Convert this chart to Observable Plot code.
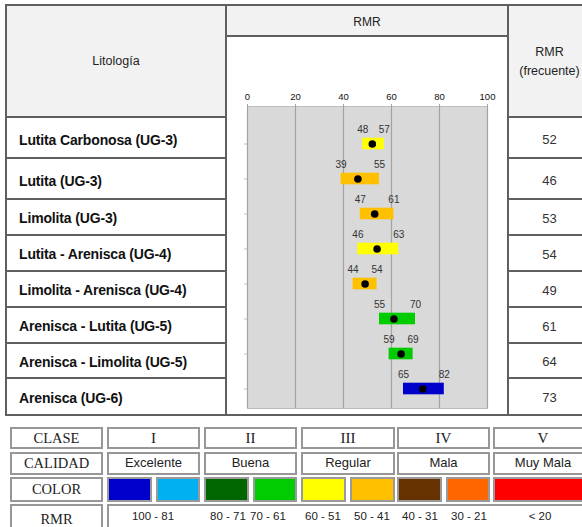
<!DOCTYPE html>
<html>
<head>
<meta charset="utf-8">
<script src="https://cdn.jsdelivr.net/npm/d3@7"></script>
<script src="https://cdn.jsdelivr.net/npm/@observablehq/plot@0.6"></script>
<style>
  html, body { margin: 0; padding: 0; background: #fff; }
  #root { position: relative; width: 582px; height: 527px; overflow: hidden; font-family: "Liberation Sans", Arial, sans-serif; color: #222; }
  .c { position: absolute; box-sizing: border-box; display: flex; align-items: center; }
  .serif { font-family: "Liberation Serif", "Times New Roman", serif; }
</style>
</head>
<body>
<div id="root"></div>
<script>
// ---------- data ----------
const lithologies = [
  "Lutita Carbonosa (UG-3)",
  "Lutita (UG-3)",
  "Limolita (UG-3)",
  "Lutita - Arenisca (UG-4)",
  "Limolita - Arenisca (UG-4)",
  "Arenisca - Lutita (UG-5)",
  "Arenisca - Limolita (UG-5)",
  "Arenisca (UG-6)"
];
const rmrMin  = [48, 39, 47, 46, 44, 55, 59, 65];
const rmrMax  = [57, 55, 61, 63, 54, 70, 69, 82];
const rmrFrec = [52, 46, 53, 54, 49, 61, 64, 73];
const barColors = ["#ffff00", "#ffc000", "#ffc000", "#ffff00", "#ffc000", "#00cc00", "#00cc00", "#0000cc"];
const xTicks = [0, 20, 40, 60, 80, 100];

const classNames = ["I", "II", "III", "IV", "V"];
const qualities = ["Excelente", "Buena", "Regular", "Mala", "Muy Mala"];
const classColors = [["#0000cc", "#00b0f0"], ["#006600", "#00cc00"], ["#ffff00", "#ffc000"], ["#663300", "#ff6600"], ["#ff0000"]];
const rmrRanges = ["100 - 81", "80 - 71", "70 - 61", "60 - 51", "50 - 41", "40 - 31", "30 - 21", "< 20"];

const rows = lithologies.map((name, i) => ({name, min: rmrMin[i], max: rmrMax[i], frec: rmrFrec[i], color: barColors[i]}));

// ---------- layout ----------
const root = document.getElementById("root");
function box(x, y, w, h, style = {}, text = "", cls = "c") {
  const d = document.createElement("div");
  d.className = cls;
  Object.assign(d.style, {left: x + "px", top: y + "px", width: w + "px", height: h + "px"}, style);
  if (text !== "") d.innerHTML = text;
  root.appendChild(d);
  return d;
}
const B = "2px solid #5f5f5f";
const HEAD = "#f2f2f2";
const colX = [5, 225, 507, 590];
const rowY = [4, 116, 157, 198, 234, 270, 306, 342, 377, 414];

// header cells
box(colX[0], rowY[0], colX[1] - colX[0] + 2, rowY[1] - rowY[0] + 2,
  {border: B, background: HEAD, justifyContent: "center", fontSize: "12.5px"}, "Litología");
box(colX[1], rowY[0], colX[2] - colX[1] + 2, 33,
  {border: B, background: HEAD, justifyContent: "center", fontSize: "12px", paddingTop: "3px"}, "RMR");
box(colX[1], rowY[0] + 31, colX[2] - colX[1] + 2, rowY[9] - rowY[0] - 31 + 2,
  {border: B, background: "#fff"});
box(colX[2], rowY[0], colX[3] - colX[2] + 2, rowY[1] - rowY[0] + 2,
  {border: B, background: HEAD, justifyContent: "center", textAlign: "center", fontSize: "12.5px", lineHeight: "19px", paddingTop: "2px"},
  "RMR<br>(frecuente)");

// rows
rows.forEach((r, i) => {
  const y = rowY[i + 1], h = rowY[i + 2] - rowY[i + 1] + 2;
  box(colX[0], y, colX[1] - colX[0] + 2, h,
    {border: B, fontWeight: "bold", fontSize: "14px", paddingLeft: "12px", paddingTop: (i < 2 ? 4 : 2) + "px", color: "#111", letterSpacing: "-0.15px"}, r.name);
  box(colX[2], y, colX[3] - colX[2] + 2, h,
    {border: B, justifyContent: "center", fontSize: "13px", paddingTop: (i < 2 ? 4 : 2) + "px", color: "#333"}, String(r.frec));
});

// ---------- chart ----------
const chartLeft = 227, chartTop = 37;
const chart = Plot.plot({
  width: 280,
  height: 376,
  marginLeft: 20,
  marginRight: 20,
  marginTop: 69,
  marginBottom: 5,
  style: {fontFamily: "Liberation Sans, Arial, sans-serif", background: "transparent", overflow: "visible"},
  x: {domain: [0, 100]},
  y: {type: "band", domain: lithologies, range: [87.3, 370.7], padding: 0},
  color: {type: "identity"},
  marks: [
    Plot.frame({fill: "#d9d9d9", stroke: "#bcbcbc"}),
    Plot.ruleX(xTicks, {stroke: "#a3a3a3", strokeWidth: 1.2}),
    Plot.axisX(xTicks, {anchor: "top", tickSize: 3, tickPadding: 4, fontSize: 9.5, stroke: "#a3a3a3", fill: "#111", label: null}),
    Plot.axisY({anchor: "left", tickSize: 3, tickFormat: () => "", stroke: "#bdbdbd", label: null}),
    Plot.barX(rows, {y: "name", x1: "min", x2: "max", fill: "color", insetTop: 11.7, insetBottom: 11.7}),
    Plot.dot(rows, {x: "frec", y: "name", r: 3.8, fill: "#000", stroke: null}),
    Plot.text(rows, {x: "min", y: "name", text: d => String(d.min), dy: -14, fontSize: 10, fill: "#333"}),
    Plot.text(rows, {x: "max", y: "name", text: d => String(d.max), dy: -14, fontSize: 10, fill: "#333"})
  ]
});
chart.style.position = "absolute";
chart.style.left = chartLeft + "px";
chart.style.top = chartTop + "px";
root.appendChild(chart);

// ---------- legend table ----------
const LB = "2px solid #979797";
const lx = [10, 107, 204, 301, 397, 493];
const lw = [93, 93, 93, 94, 93, 100];
const ly = [427, 452, 477, 504];
const lh = [22, 23, 25, 30];
const labels = ["CLASE", "CALIDAD", "COLOR", "RMR"];
labels.forEach((t, i) => {
  box(lx[0], ly[i], lw[0], lh[i], {border: LB, justifyContent: "center", fontSize: "14.5px", color: "#222"}, t, "c serif");
});
classNames.forEach((t, j) => {
  box(lx[j + 1], ly[0], lw[j + 1], lh[0], {border: LB, justifyContent: "center", fontSize: "15px", color: "#222"}, t, "c serif");
  box(lx[j + 1], ly[1], lw[j + 1], lh[1], {border: LB, justifyContent: "center", fontSize: "13px", color: "#222", alignItems: "flex-start", paddingTop: "1px"}, qualities[j]);
  const cols = classColors[j];
  const gap = 4;
  const sw = cols.length === 1 ? lw[j + 1] : (lw[j + 1] - gap) / 2;
  cols.forEach((col, k) => {
    box(lx[j + 1] + k * (sw + gap), ly[2], sw, lh[2], {border: "2px solid #9a9a9a", background: col});
  });
});
box(lx[1], ly[3], 582 - lx[1] + 10, lh[3], {border: LB});
const rangeCenters = [153, 228, 268, 323, 372, 420, 469, 540];
rmrRanges.forEach((t, i) => {
  box(rangeCenters[i] - 30, ly[3] + 2, 60, 20, {justifyContent: "center", fontSize: "11.5px", color: "#222"}, t);
});
</script>
</body>
</html>
